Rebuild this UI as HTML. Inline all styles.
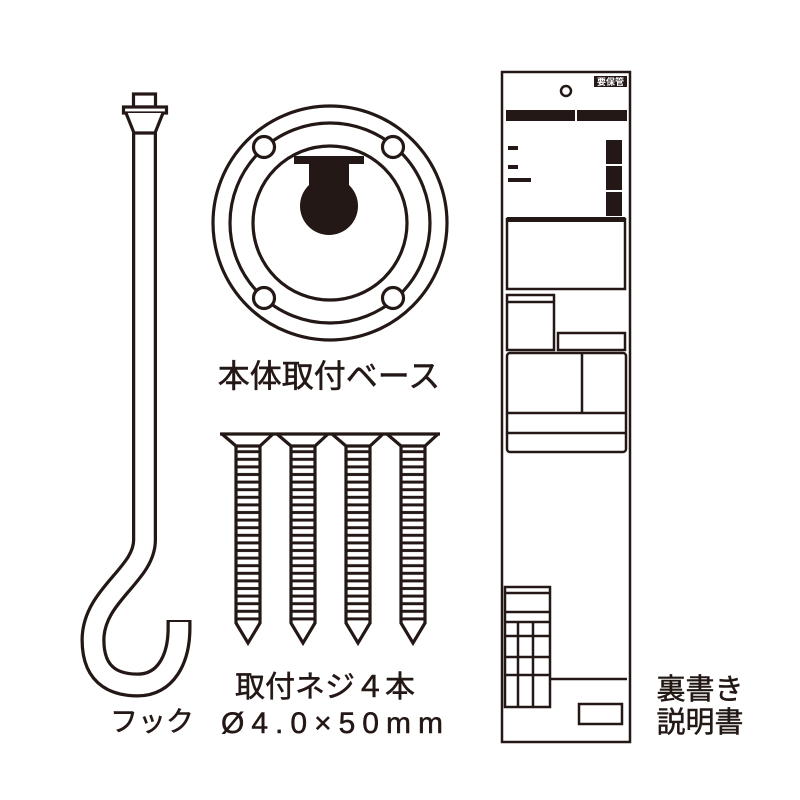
<!DOCTYPE html>
<html><head><meta charset="utf-8"><style>
html,body{margin:0;padding:0;background:#fff}
svg{display:block}
text{font-family:"Liberation Sans","Noto Sans CJK JP",sans-serif;fill:#231815}
</style></head><body>
<svg width="800" height="800" viewBox="0 0 800 800" xmlns="http://www.w3.org/2000/svg">
<g fill="none" stroke="#231815" stroke-width="3.2">
<!-- hook -->
<path d="M144.5 132 L144.5 540 C144.5 575 93 595 93 640 C93 680 120 685 138 685 C165 685 179 660 179 628 L179 620" stroke-width="25" stroke-linecap="butt"/>
<path d="M144.5 130 L144.5 540 C144.5 575 93 595 93 640 C93 680 120 685 138 685 C165 685 179 660 179 628 L179 622" stroke="#fff" stroke-width="18.5"/>
<rect x="133.5" y="94" width="22" height="13" fill="#fff"/>
<rect x="123.5" y="107" width="43" height="6" fill="#fff"/>
<path d="M126 113 L134 133 L155 133 L163 113" fill="#fff"/>
<!-- base -->
<circle cx="330" cy="223" r="117"/>
<circle cx="330" cy="223" r="100"/>
<circle cx="330" cy="223" r="77"/>
<circle cx="264" cy="147" r="10.5" fill="#fff"/>
<circle cx="393" cy="147" r="10.5" fill="#fff"/>
<circle cx="264" cy="298" r="10.5" fill="#fff"/>
<circle cx="393" cy="298" r="10.5" fill="#fff"/>
</g>
<g fill="#231815">
<path d="M294 163 Q330 150 364 163 Z"/>
<rect x="294" y="156" width="70" height="8"/>
<rect x="309" y="160" width="40" height="30"/>
<circle cx="329" cy="206" r="29"/>
</g>
<!-- screws -->
<g fill="none" stroke="#231815" stroke-width="3.2">
<path d="M220 434 L440 434"/>
<g id="s">
<path d="M222 434 L236 446 L260 446 L273 434"/>
<path d="M236 446 L236 623 L248 643 L260 623 L260 446"/>
</g>
<use href="#s" x="55"/><use href="#s" x="110"/><use href="#s" x="165"/>
</g>
<g fill="#231815">
<pattern id="th" x="0" y="446" width="10" height="7.6" patternUnits="userSpaceOnUse"><rect x="0" y="4.2" width="10" height="3"/></pattern>
<rect x="236" y="446" width="24" height="176" fill="url(#th)"/>
<rect x="291" y="446" width="24" height="176" fill="url(#th)"/>
<rect x="346" y="446" width="24" height="176" fill="url(#th)"/>
<rect x="401" y="446" width="24" height="176" fill="url(#th)"/>
</g>
<!-- card -->
<g fill="none" stroke="#231815" stroke-width="2.5">
<rect x="502" y="72" width="128" height="670"/>
<circle cx="566" cy="91" r="5"/>
<rect x="507" y="219" width="118" height="70"/>
<rect x="507" y="295" width="47" height="55"/>
<line x1="507" y1="302" x2="554" y2="302"/>
<rect x="558" y="333" width="67" height="17"/>
<rect x="507" y="353" width="119" height="99" rx="3"/>
<line x1="582" y1="353" x2="582" y2="413"/>
<line x1="507" y1="413" x2="626" y2="413"/>
<line x1="507" y1="433" x2="626" y2="433"/>
<rect x="505" y="587" width="45" height="120"/>
<line x1="505" y1="593" x2="550" y2="593"/>
<line x1="505" y1="612" x2="550" y2="612"/>
<line x1="505" y1="622" x2="550" y2="622"/>
<line x1="505" y1="636" x2="550" y2="636"/>
<line x1="505" y1="657" x2="550" y2="657"/>
<line x1="505" y1="675" x2="550" y2="675"/>
<line x1="518" y1="622" x2="518" y2="707"/>
<line x1="533" y1="622" x2="533" y2="707"/>
<line x1="551" y1="679" x2="627" y2="679"/>
<rect x="579" y="704" width="43" height="20"/>
</g>
<g fill="#231815">
<rect x="594" y="76" width="33" height="11"/>
<rect x="506" y="110" width="69" height="11"/>
<rect x="577" y="110" width="50" height="11"/>
<rect x="508" y="146" width="10" height="4"/>
<rect x="508" y="165" width="10" height="4"/>
<rect x="508" y="178" width="23" height="4"/>
<rect x="606" y="140" width="16" height="24"/>
<rect x="606" y="166" width="16" height="24"/>
<rect x="606" y="192" width="16" height="24"/>
<rect x="507" y="217" width="118" height="5"/>
</g>
<text x="610.5" y="85" font-size="9" text-anchor="middle" style="fill:#fff" font-weight="bold">要保管</text>
<!-- labels -->
<text x="329" y="387" font-size="32" text-anchor="middle" stroke="#231815" stroke-width="0.5">本体取付ベース</text>
<text x="325" y="697" font-size="30" text-anchor="middle" stroke="#231815" stroke-width="0.5">取付ネジ４本</text>
<text x="332" y="733" font-size="30" text-anchor="middle" stroke="#231815" stroke-width="0.5" textLength="222" lengthAdjust="spacing">Ø4.0×50mm</text>
<text x="152" y="731" font-size="28" text-anchor="middle" stroke="#231815" stroke-width="0.5">フック</text>
<text x="700" y="699" font-size="29" text-anchor="middle" stroke="#231815" stroke-width="0.5">裏書き</text>
<text x="700" y="732" font-size="29" text-anchor="middle" stroke="#231815" stroke-width="0.5">説明書</text>
</svg>
</body></html>
